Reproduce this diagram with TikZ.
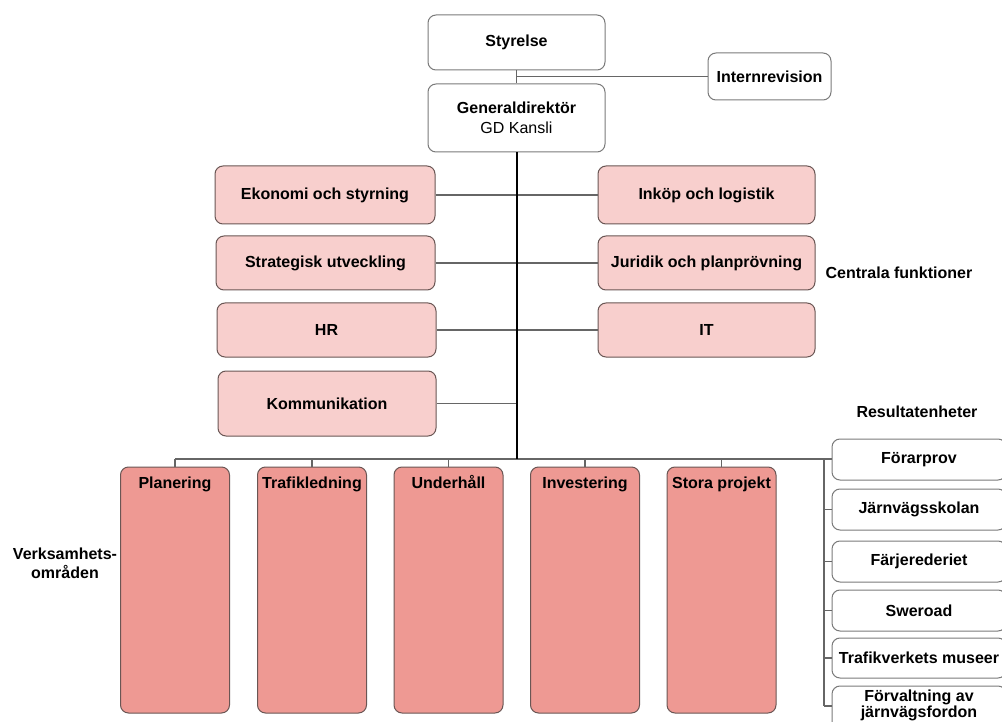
\documentclass[tikz,border=0pt]{standalone}
\usepackage{fontspec}
\setmainfont{Liberation Sans}
\definecolor{cfill}{HTML}{F8CFCD}
\definecolor{vfill}{HTML}{EE9993}
\definecolor{bdr}{HTML}{6A5654}
\definecolor{gbdr}{HTML}{7A7A7A}
\definecolor{lin}{HTML}{666666}
\tikzset{
  lbl/.style={font=\bfseries\fontsize{16}{18.5}\selectfont, align=center},
  wbox/.style={draw=gbdr, fill=white, rounded corners=8pt, line width=1pt, lbl, inner sep=0pt},
  cbox/.style={draw=bdr, fill=cfill, rounded corners=8pt, line width=1pt, lbl, inner sep=0pt},
  vbox/.style={draw=bdr, fill=vfill, rounded corners=8pt, line width=1pt, inner sep=0pt,
               minimum width=109pt, minimum height=246pt},
  rbox/.style={wbox, minimum width=174pt},
  conn/.style={draw=lin, line width=1.1pt},
  mainline/.style={draw=black, line width=2pt},
}
\begin{document}
\begin{tikzpicture}[x=1pt,y=-1pt]
\useasboundingbox (0,0) rectangle (1002,722);
\clip (0,0) rectangle (1002,722);
% top
\node[wbox, minimum width=177pt, minimum height=55pt] (sty) at (516.5,42.5) {Styrelse};
\node[wbox, minimum width=123pt, minimum height=47pt] (int) at (769.5,76.5) {Internrevision};
\node[wbox, minimum width=177pt, minimum height=68pt] (gd) at (516.5,118)
  {Generaldirektör\\[1pt]{\mdseries GD Kansli}};
% central functions
\node[cbox, minimum width=220pt, minimum height=58pt] (eko) at (325,195) {Ekonomi och styrning};
\node[cbox, minimum width=217pt, minimum height=58pt] (ink) at (706.5,195) {Inköp och logistik};
\node[cbox, minimum width=219pt, minimum height=54pt] (str) at (325.5,263) {Strategisk utveckling};
\node[cbox, minimum width=217pt, minimum height=54pt] (jur) at (706.5,263) {Juridik och planprövning};
\node[cbox, minimum width=219pt, minimum height=54pt] (hr) at (326.5,330) {HR};
\node[cbox, minimum width=217pt, minimum height=54pt] (it) at (706.5,330) {IT};
\node[cbox, minimum width=218pt, minimum height=65pt] (kom) at (327,403.5) {Kommunikation};
\node[lbl] (cf) at (899,273) {Centrala funktioner};
\node[lbl] (re) at (917,412) {Resultatenheter};
% business areas
\foreach \n/\x/\t in {plan/175/Planering, traf/312/Trafikledning, und/448.5/Underhåll,
                      inv/585/Investering, sto/721.5/Stora projekt}{
  \node[vbox, label={[lbl, anchor=north, yshift=-10pt, inner sep=0pt, text height=12pt, text depth=4pt]north:\t}] (\n) at (\x,590) {};
}
\node[lbl] (vo) at (65,563.5) {Verksamhets-\\områden};
% result units
\node[rbox, minimum height=41pt] (r1) at (919,459.5) {Förarprov};
\node[rbox, minimum height=41pt] (r2) at (919,509.5) {Järnvägsskolan};
\node[rbox, minimum height=41pt] (r3) at (919,561.5) {Färjerederiet};
\node[rbox, minimum height=41pt] (r4) at (919,610.5) {Sweroad};
\node[rbox, minimum height=40pt] (r5) at (919,658) {Trafikverkets museer};
\node[rbox, minimum height=44pt] (r6) at (919,708) {};
\node[lbl, anchor=north] (r6t) at (919,686.5) {Förvaltning av\\[-3pt]järnvägsfordon};
% connectors
\coordinate (bus) at (516.5,459);
\coordinate (brk) at (824,459);
\coordinate (brkb) at (824,706);
\draw[conn] (sty.south) -- (gd.north);
\draw[conn] (int.west) -- (int.west -| sty.south);
\draw[conn] (eko.east) -- (ink.west);
\draw[conn] (str.east) -- (jur.west);
\draw[conn] (hr.east) -- (it.west);
\draw[conn] (kom.east) -- (kom.east -| gd.south);
\draw[conn] (plan.north |- bus) -- (brk);
\foreach \n in {plan,traf,und,inv,sto}{
  \draw[conn] (\n.north) -- (\n.north |- bus);
}
\draw[conn] (brk) -- (brkb);
\draw[conn] (brk) -- (r1.west |- brk);
\foreach \n in {r2,r3,r4,r5}{
  \draw[conn] (\n.west) -- (\n.west -| brk);
}
\draw[conn] (brkb) -- (r6.west |- brkb);
\draw[mainline] (gd.south) -- (bus);
\end{tikzpicture}
\end{document}
